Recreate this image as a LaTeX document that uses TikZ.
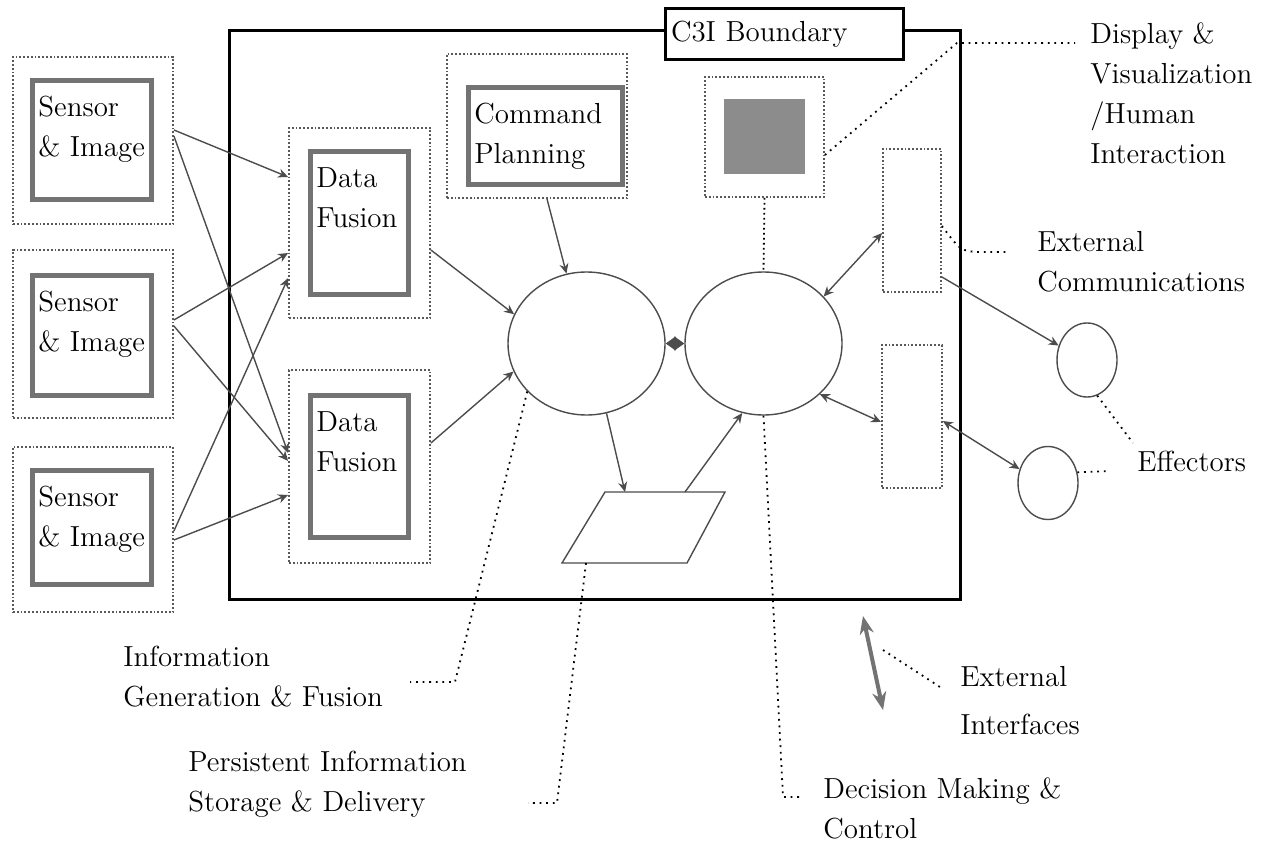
\documentclass[tikz,border=0pt]{standalone}
\usepackage{fontspec}
\usepackage{tikz}
\usetikzlibrary{shapes.geometric,arrows.meta}

\begin{document}
\begin{tikzpicture}[x=0.5pt,y=-0.5pt,
	tag/.style={font=\fontsize{14.5}{20}\selectfont, align=left, inner sep=0pt},
	lbl/.style={tag, anchor=north west, xshift=4pt, yshift=-9pt},
	frame/.style={draw=black!65, densely dotted, line width=0.9pt, inner sep=0pt},
	shadowbox/.style={draw=black!55, line width=2.5pt, inner sep=0pt},
	bubble/.style={shape=ellipse, draw=black!70, line width=0.7pt, inner sep=0pt},
	flow/.style={draw=black!70, line width=0.7pt, -{Stealth[length=5pt,width=4.5pt]}},
	biflow/.style={flow, {Stealth[length=5pt,width=4.5pt]}-{Stealth[length=5pt,width=4.5pt]}},
	leader/.style={draw=black, line width=0.9pt, dash pattern=on 0.9pt off 2.4pt}]
	\useasboundingbox (0,0) rectangle (1261,844);

	% C3I boundary
	\draw[line width=1.5pt] (229,31) rectangle (960,599);
	\node[tag, draw, fill=white, line width=1.5pt, text width=113pt, inner sep=3pt, minimum height=25.5pt] (c3i) at (784,34.5) {C3I Boundary};

	% sensors
	\node[frame, minimum width=80pt, minimum height=83.5pt] (s1out) at (93,140.5) {};
	\node[shadowbox, minimum width=59.5pt, minimum height=59.5pt, label={[lbl]north west:{Sensor\\\& Image}}] (s1in) at (92,140) {};
	\node[frame, minimum width=80pt, minimum height=84pt] (s2out) at (93,334) {};
	\node[shadowbox, minimum width=59.5pt, minimum height=60pt, label={[lbl]north west:{Sensor\\\& Image}}] (s2in) at (92,335.5) {};
	\node[frame, minimum width=80pt, minimum height=82.5pt] (s3out) at (93,529.5) {};
	\node[shadowbox, minimum width=59.5pt, minimum height=57pt, label={[lbl]north west:{Sensor\\\& Image}}] (s3in) at (92,527.5) {};

	% data fusion
	\node[frame, minimum width=70.5pt, minimum height=95pt] (df1out) at (359.5,223) {};
	\node[shadowbox, minimum width=49pt, minimum height=71.5pt, label={[lbl]north west:{Data\\Fusion}}] (df1in) at (359.5,223) {};
	\node[frame, minimum width=70.5pt, minimum height=96.5pt] (df2out) at (359.5,466.5) {};
	\node[shadowbox, minimum width=49pt, minimum height=71pt, label={[lbl]north west:{Data\\Fusion}}] (df2in) at (359.5,466.5) {};

	% command planning and display
	\node[frame, minimum width=90pt, minimum height=72pt] (cp) at (537,126) {};
	\node[shadowbox, minimum width=77pt, minimum height=48.5pt, label={[lbl]north west:{Command\\Planning}}] (cpin) at (545.5,136) {};
	\node[frame, minimum width=59.5pt, minimum height=60pt] (disp) at (764.5,137) {};
	\node[fill=black!45, minimum width=40.5pt, minimum height=37.5pt, inner sep=0pt] (screen) at (764.5,136.5) {};

	% processes
	\node[bubble, minimum width=78.5pt, minimum height=71.5pt] (infogen) at (586.5,343.5) {};
	\node[bubble, minimum width=78.5pt, minimum height=71.5pt] (decision) at (763.5,343.5) {};
	\coordinate (ptop) at (665,492);
	\coordinate (pbot) at (624.5,563);
	\draw[draw=black!70, line width=0.7pt] (562,563) -- (605,492) -- (725,492) -- (687,563) -- cycle;

	% external side
	\node[frame, minimum width=29pt, minimum height=71.5pt] (comm1) at (912,220.5) {};
	\node[frame, minimum width=30pt, minimum height=71.5pt] (comm2) at (912,416.5) {};
	\node[bubble, minimum width=30pt, minimum height=37pt] (eff1) at (1087,360) {};
	\node[bubble, minimum width=30pt, minimum height=36.5pt] (eff2) at (1048,483) {};

	% sensor feeds
	\draw[flow] (s1out.east |- 0,130) -- (df1out.west |- 0,177);
	\draw[flow] (s1out.east |- 0,136) -- (df2out.west |- 0,453);
	\draw[flow] (s2out.east |- 0,320) -- (df1out.west |- 0,253);
	\draw[flow] (s2out.east |- 0,326) -- (df2out.west |- 0,461);
	\draw[flow] (s3out.east |- 0,531) -- (df1out.west |- 0,278);
	\draw[flow] (s3out.east |- 0,540) -- (df2out.west |- 0,495);

	\draw[flow] (df1out.east |- 0,250) -- (infogen.158);
	\draw[flow] (df2out.east |- 0,443) -- (infogen.-159);
	\draw[flow] (547,0 |- cp.south) -- (infogen.106);
	\draw[flow] (infogen.-74) -- (625,0 |- ptop);
	\draw[flow] (685,0 |- ptop) -- (decision.-107);
	\draw[draw=black!70, line width=0.7pt, {Triangle[length=5pt,width=7pt]}-{Triangle[length=5pt,width=7pt]}] (infogen) -- (decision);
	\draw[leader, dash pattern=on 0.9pt off 1.6pt] (disp.south) -- (decision.north);
	\draw[biflow] (decision.38) -- (comm1.west |- 0,233);
	\draw[biflow] (decision.-42) -- (comm2.west |- 0,422);
	\draw[flow] (comm1.east |- 0,277) -- (eff1.153);
	\draw[biflow] (comm2.east |- 0,421) -- (eff2.154);

	% external interface sample
	\coordinate (xif1) at (863,616);
	\coordinate (xif2) at (883,710);
	\draw[draw=black!55, line width=2pt, {Stealth[length=9pt,width=7pt]}-{Stealth[length=9pt,width=7pt]}] (xif1) -- (xif2);

	% notes
	\node[tag, anchor=north west] (dispnote) at (1090,22) {Display \&\\Visualization\\/Human\\Interaction};
	\node[tag, anchor=north west] (commnote) at (1037,231) {External\\Communications};
	\node[tag, anchor=north west] (effnote) at (1137,451) {Effectors};
	\node[tag, anchor=north west] (extnote) at (960,666) {External\\[4pt]Interfaces};
	\node[tag, anchor=north west] (decnote) at (823,777) {Decision Making \&\\Control};
	\node[tag, anchor=north west] (infonote) at (123,646) {Information\\Generation \& Fusion};
	\node[tag, anchor=north west] (persnote) at (188,751) {Persistent Information\\Storage \& Delivery};

	\coordinate (dispbend) at (957,43);
	\coordinate (dispend) at (1075,43);
	\coordinate (commend) at (1007,252);
	\coordinate (eff1end) at (1133,443);
	\coordinate (eff2end) at (1110,471);
	\coordinate (xifstart) at (883,650);
	\coordinate (xifend) at (940,687);
	\coordinate (infobend) at (455,682);
	\coordinate (infoend) at (410,682);
	\coordinate (persbend) at (557,803);
	\coordinate (persend) at (528,803);
	\coordinate (decbend) at (783,797);
	\coordinate (decend) at (803,797);

	\draw[leader] (disp.east |- 0,155) -- (dispbend) -- (dispend);
	\draw[leader] (comm1.east |- 0,226) .. controls (960,250) .. (975,252) -- (commend);
	\draw[leader] (eff1.-74) -- (eff1end);
	\draw[leader] (eff2.20) -- (eff2end);
	\draw[leader] (xifstart) -- (xifend);
	\draw[leader] (infogen.-141) -- (infobend) -- (infoend);
	\draw[leader] (586,0 |- pbot) -- (persbend) -- (persend);
	\draw[leader] (decision.south) -- (decbend) -- (decend);
\end{tikzpicture}
\end{document}
